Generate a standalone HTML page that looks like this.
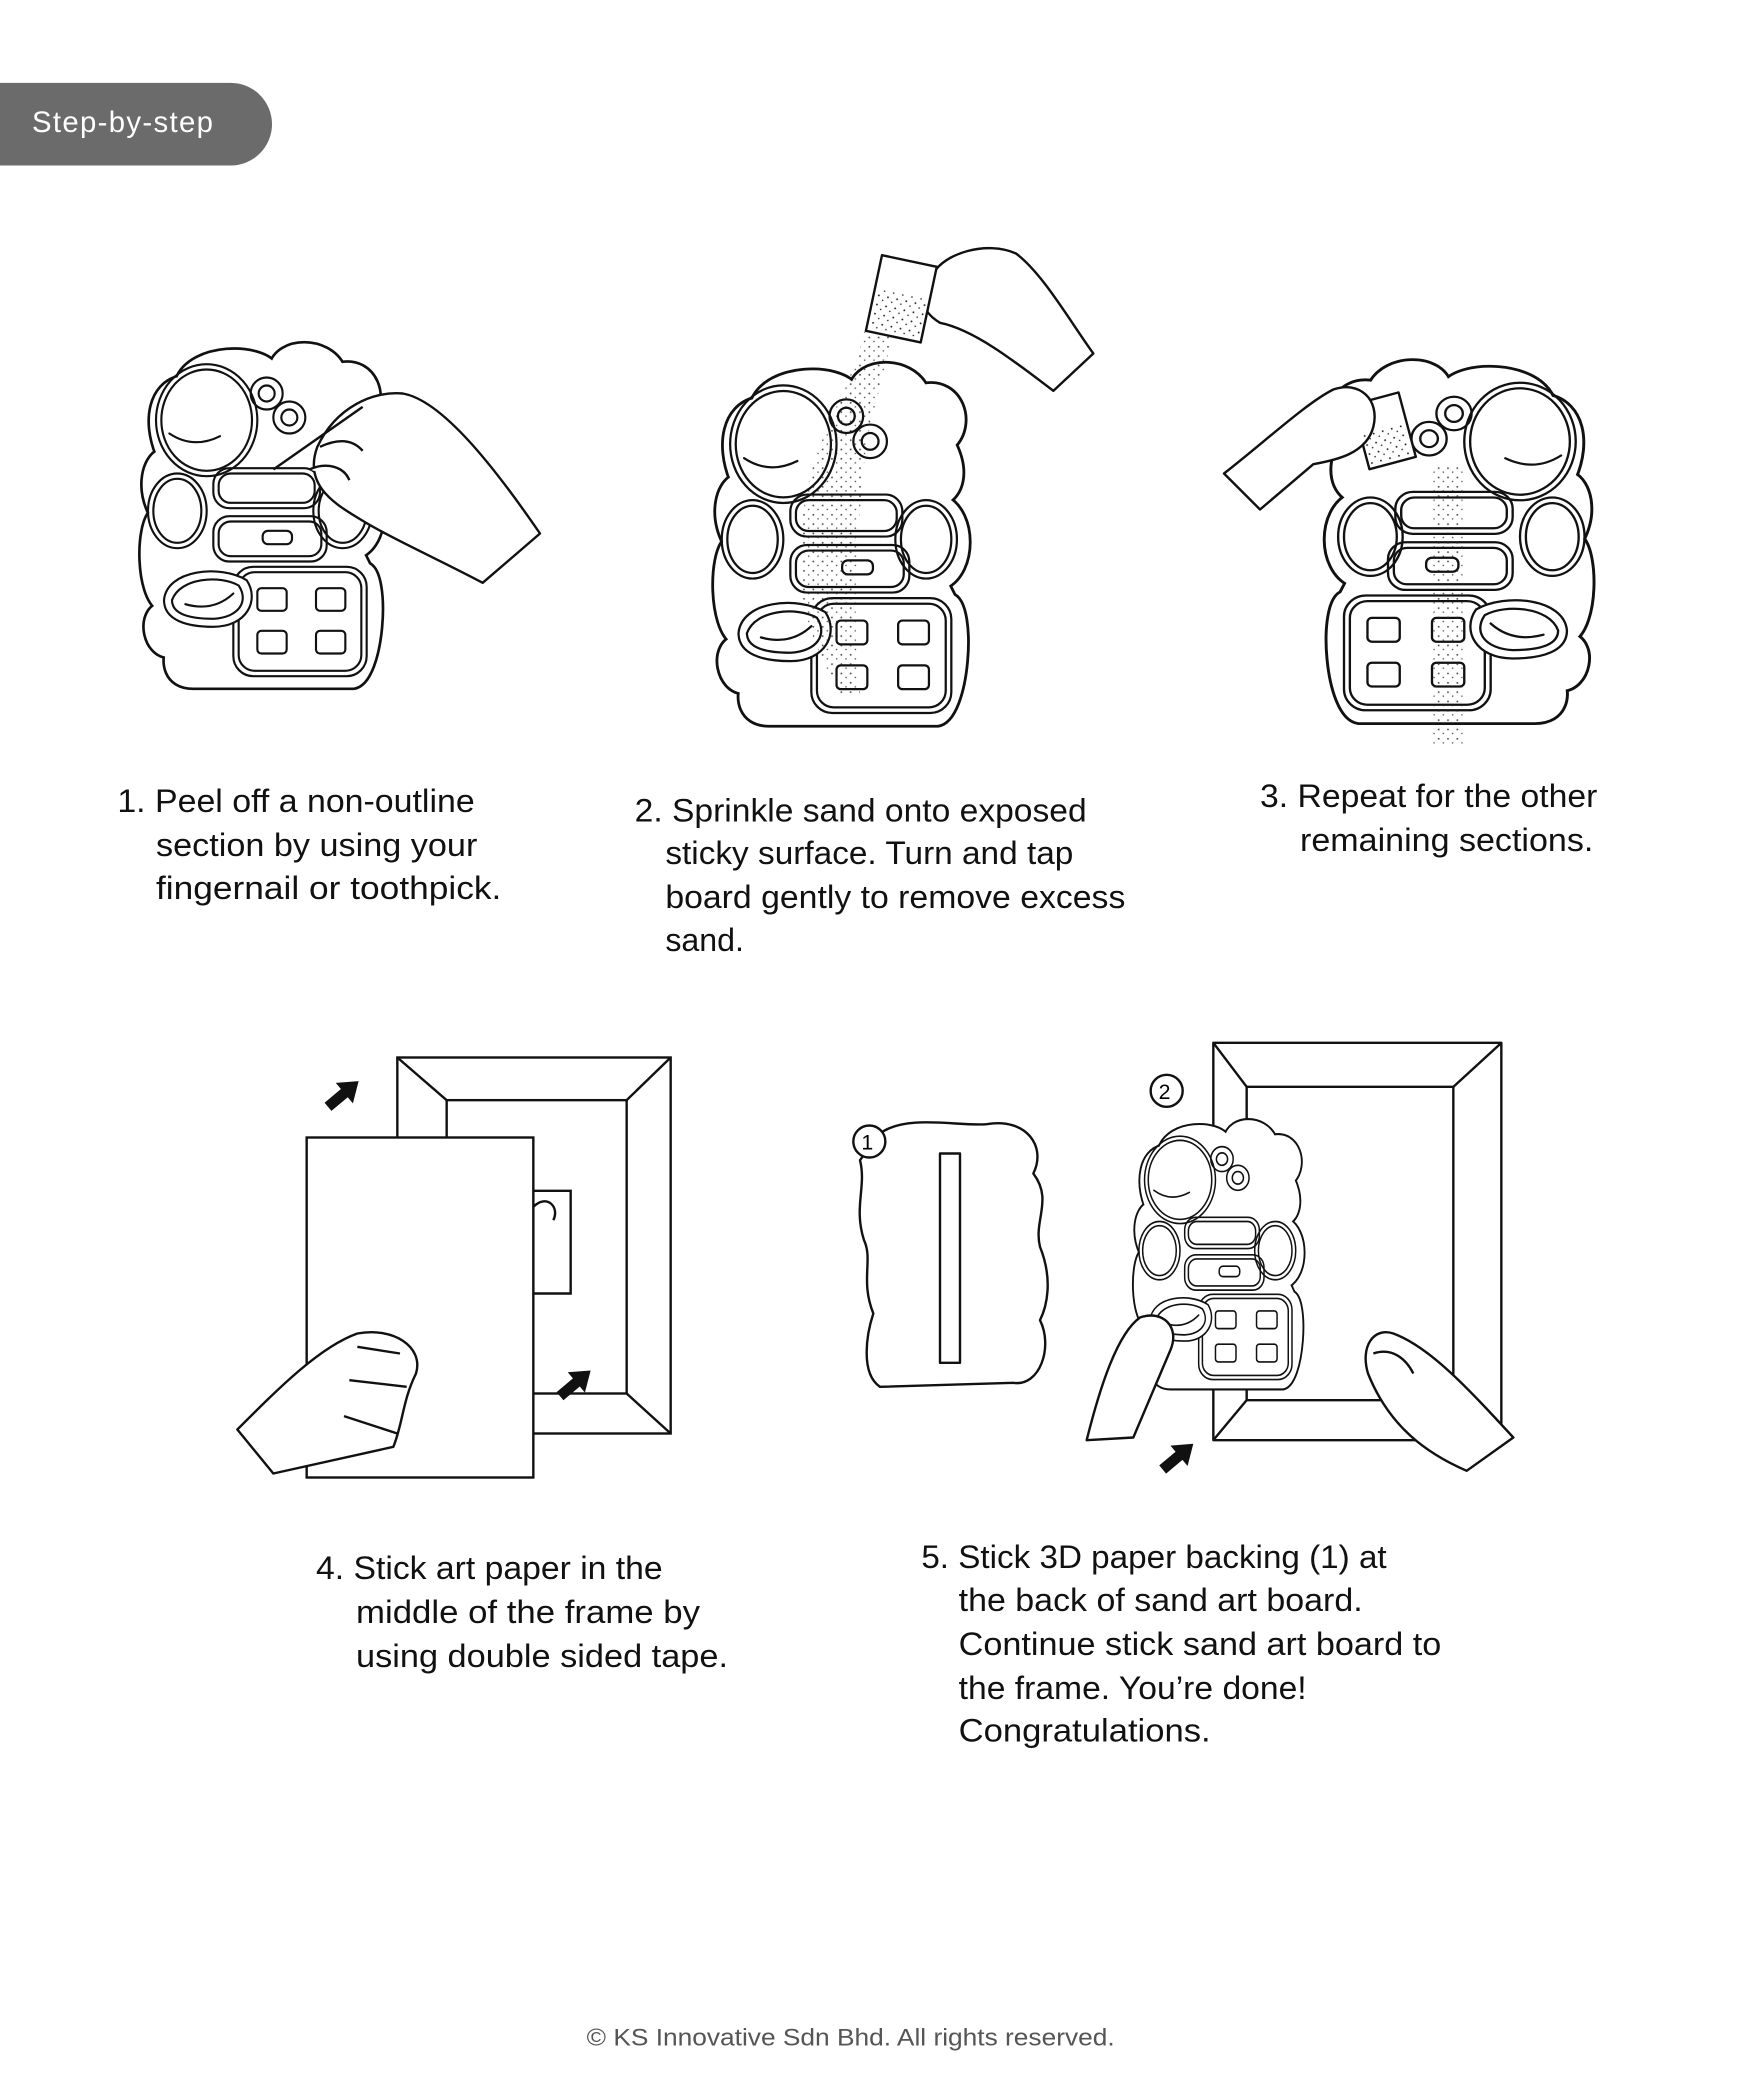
<!DOCTYPE html>
<html><head><meta charset="utf-8"><style>
html,body{margin:0;padding:0;background:#fff;}
svg{display:block}
text{font-family:"Liberation Sans",sans-serif;}
</style></head><body>
<svg width="1748" height="2091" viewBox="0 0 1311 1568" xmlns="http://www.w3.org/2000/svg">
<defs>
<pattern id="dots" width="7" height="7" patternUnits="userSpaceOnUse">
<circle cx="1" cy="1" r="0.7" fill="#222"/><circle cx="4.5" cy="4" r="0.6" fill="#222"/>
</pattern>
<g id="board" fill="none" stroke-linejoin="round" stroke-linecap="round">
<path d="M30,30 C40,5 90,5 100,20 C105,0 140,0 150,20 C175,15 185,45 170,60 C180,80 175,95 165,100 C185,110 185,150 165,160 L170,170 C185,175 180,255 160,258 L40,258 C20,258 20,240 22,235 C5,235 0,205 15,200 C0,190 0,140 10,130 C0,110 5,90 15,85 C5,60 10,35 30,30 Z" stroke="#111" stroke-width="9"/>
<path d="M30,30 C40,5 90,5 100,20 C105,0 140,0 150,20 C175,15 185,45 170,60 C180,80 175,95 165,100 C185,110 185,150 165,160 L170,170 C185,175 180,255 160,258 L40,258 C20,258 20,240 22,235 C5,235 0,205 15,200 C0,190 0,140 10,130 C0,110 5,90 15,85 C5,60 10,35 30,30 Z" stroke="#fff" stroke-width="5" fill="#fff"/>
<g stroke="#111" stroke-width="1.6">
<ellipse cx="50" cy="60" rx="38" ry="42"/><ellipse cx="50" cy="60" rx="34" ry="38"/>
<path d="M22,70 Q40,82 60,72"/>
<circle cx="95" cy="40" r="12"/><circle cx="95" cy="40" r="6"/>
<circle cx="112" cy="58" r="12"/><circle cx="112" cy="58" r="6"/>
<ellipse cx="28" cy="128" rx="22" ry="28"/><ellipse cx="28" cy="128" rx="18" ry="24"/>
<ellipse cx="152" cy="128" rx="22" ry="28"/><ellipse cx="152" cy="128" rx="18" ry="24"/>
<rect x="55" y="96" width="80" height="30" rx="12"/><rect x="59" y="100" width="72" height="22" rx="9"/>
<rect x="55" y="132" width="85" height="34" rx="12"/><rect x="59" y="136" width="77" height="26" rx="9"/>
<rect x="92" y="143" width="22" height="10" rx="4"/>
<rect x="70" y="170" width="100" height="82" rx="15"/><rect x="74" y="174" width="92" height="74" rx="12"/>
<rect x="88" y="186" width="22" height="17" rx="3"/><rect x="132" y="186" width="22" height="17" rx="3"/>
<rect x="88" y="218" width="22" height="17" rx="3"/><rect x="132" y="218" width="22" height="17" rx="3"/>
<path d="M18,195 C20,172 60,168 80,180 C90,195 80,215 55,215 C35,215 18,210 18,195 Z" fill="#fff"/>
<path d="M24,195 C30,178 60,176 74,184 C82,196 74,208 55,209 C38,209 24,206 24,195 Z"/>
<path d="M34,198 Q55,204 70,190"/>
</g></g>
<path id="arrow" d="M0,-4 L16,-4 L16,-10 L30,0 L16,10 L16,4 L0,4 Z" fill="#111"/>
</defs>

<path d="M0,62 L173,62 A31,31 0 0 1 173,124 L0,124 Z" fill="#6b6b6b"/>
<text x="24" y="99" font-size="22" fill="#fff" letter-spacing="1">Step-by-step</text>

<use href="#board" transform="translate(105,255)"/>
<g fill="#fff" stroke="#111" stroke-width="1.8" stroke-linejoin="round">
<path d="M405,400 L362,437 C330,420 290,402 268,388 C248,376 228,362 238,335 C252,305 280,293 302,295 C332,300 372,352 405,400 Z"/>
<path d="M240,335 C255,328 265,330 272,338 M232,352 C245,346 258,350 262,360"/>
<line x1="205" y1="352" x2="272" y2="305"/>
</g>

<use href="#board" transform="translate(535,270) scale(1.05)"/>
<path d="M650,240 C640,300 600,330 600,420 C600,470 620,500 630,520 L645,520 C640,470 640,420 650,330 L670,250 Z" fill="url(#dots)" opacity="0.8"/>
<g fill="#fff" stroke="#111" stroke-width="1.8" stroke-linejoin="round">
<path d="M820,265 L790,293 C760,270 730,247 705,242 C688,232 688,215 700,205 C708,190 740,180 762,190 C782,205 802,240 820,265 Z"/>
<rect x="655" y="195" width="42" height="58" transform="rotate(12 676 224)"/>
</g>
<rect x="658" y="220" width="38" height="32" transform="rotate(12 676 224)" fill="url(#dots)"/>

<use href="#board" transform="translate(1195,268) scale(-1.1,1.05)"/>
<rect x="1075" y="350" width="22" height="210" fill="url(#dots)" opacity="0.8"/>
<g fill="#fff" stroke="#111" stroke-width="1.8" stroke-linejoin="round">
<rect x="1020" y="298" width="36" height="50" transform="rotate(-15 1038 323)"/>
<path d="M918,355 C950,330 980,302 1000,292 C1020,285 1035,300 1030,320 C1025,340 1002,345 985,348 L945,382 Z"/>
</g>
<rect x="1022" y="320" width="32" height="26" transform="rotate(-15 1038 323)" fill="url(#dots)"/>

<g fill="none" stroke="#111" stroke-width="1.8">
<rect x="298" y="793" width="205" height="282" fill="#fff"/>
<rect x="335" y="825" width="135" height="220"/>
<path d="M298,793 L335,825 M503,793 L470,825 M503,1075 L470,1045 M298,1075 L335,1045"/>
<path d="M400,893 L428,893 L428,970 L400,970 Z M400,905 C410,895 420,905 415,915" fill="#fff"/>
<rect x="230" y="853" width="170" height="255" fill="#fff"/>
<path d="M178,1072 C210,1040 240,1010 268,1000 C295,995 318,1010 312,1030 C302,1050 302,1068 295,1085 L205,1105 Z" fill="#fff" stroke-linejoin="round"/>
<path d="M268,1010 L300,1015 M262,1035 L305,1040 M258,1062 L298,1075"/>
</g>
<use href="#arrow" transform="translate(246,830) rotate(-40)"/>
<use href="#arrow" transform="translate(420,1047) rotate(-40)"/>

<g fill="#fff" stroke="#111" stroke-width="1.8" stroke-linejoin="round">
<path d="M660,850 C680,835 720,845 740,843 C770,838 785,860 775,880 C790,900 775,915 780,935 C790,960 785,980 780,990 C790,1010 780,1040 760,1037 L660,1040 C645,1030 650,1000 655,985 C645,960 655,945 648,930 C640,905 650,890 645,870 Z"/>
<rect x="705" y="865" width="15" height="157"/>
<circle cx="652" cy="856" r="12"/>
<rect x="910" y="782" width="216" height="298"/>
<rect x="935" y="815" width="155" height="235"/>
<path d="M910,782 L935,815 M1126,782 L1090,815 M1126,1080 L1090,1050 M910,1080 L935,1050"/>
<circle cx="875" cy="818" r="12"/>
</g>
<use href="#board" transform="translate(850,838) scale(0.7,0.78)"/>
<g fill="#fff" stroke="#111" stroke-width="1.8" stroke-linejoin="round">
<path d="M815,1080 C825,1040 838,1000 855,988 C872,982 885,995 878,1012 L850,1078 Z"/>
<path d="M1135,1078 L1100,1103 C1070,1090 1042,1070 1026,1030 C1020,1010 1030,995 1045,1000 C1072,1010 1100,1040 1135,1078 Z"/>
<path d="M1030,1015 C1045,1010 1055,1020 1060,1030"/>
</g>
<text x="646" y="862" font-size="16">1</text>
<text x="869" y="824" font-size="16">2</text>
<use href="#arrow" transform="translate(872,1102) rotate(-40)"/>

<g font-size="24" fill="#111">
<text x="88" y="609" textLength="268" lengthAdjust="spacingAndGlyphs">1. Peel off a non-outline</text>
<text x="117" y="642" textLength="241" lengthAdjust="spacingAndGlyphs">section by using your</text>
<text x="117" y="674" textLength="259" lengthAdjust="spacingAndGlyphs">fingernail or toothpick.</text>
<text x="476" y="616" textLength="339" lengthAdjust="spacingAndGlyphs">2. Sprinkle sand onto exposed</text>
<text x="499" y="648" textLength="306" lengthAdjust="spacingAndGlyphs">sticky surface. Turn and tap</text>
<text x="499" y="681" textLength="345" lengthAdjust="spacingAndGlyphs">board gently to remove excess</text>
<text x="499" y="713" textLength="59" lengthAdjust="spacingAndGlyphs">sand.</text>
<text x="945" y="605" textLength="253" lengthAdjust="spacingAndGlyphs">3. Repeat for the other</text>
<text x="975" y="638" textLength="220" lengthAdjust="spacingAndGlyphs">remaining sections.</text>
<text x="237" y="1184" textLength="260" lengthAdjust="spacingAndGlyphs">4. Stick art paper in the</text>
<text x="267" y="1217" textLength="258" lengthAdjust="spacingAndGlyphs">middle of the frame by</text>
<text x="267" y="1250" textLength="279" lengthAdjust="spacingAndGlyphs">using double sided tape.</text>
<text x="691" y="1176" textLength="349" lengthAdjust="spacingAndGlyphs">5. Stick 3D paper backing (1) at</text>
<text x="719" y="1208" textLength="303" lengthAdjust="spacingAndGlyphs">the back of sand art board.</text>
<text x="719" y="1241" textLength="362" lengthAdjust="spacingAndGlyphs">Continue stick sand art board to</text>
<text x="719" y="1274" textLength="261" lengthAdjust="spacingAndGlyphs">the frame. You’re done!</text>
<text x="719" y="1306" textLength="189" lengthAdjust="spacingAndGlyphs">Congratulations.</text>
</g>
<text x="440" y="1534" font-size="18" fill="#555" textLength="396" lengthAdjust="spacingAndGlyphs">© KS Innovative Sdn Bhd.  All rights reserved.</text>
</svg>
</body></html>
